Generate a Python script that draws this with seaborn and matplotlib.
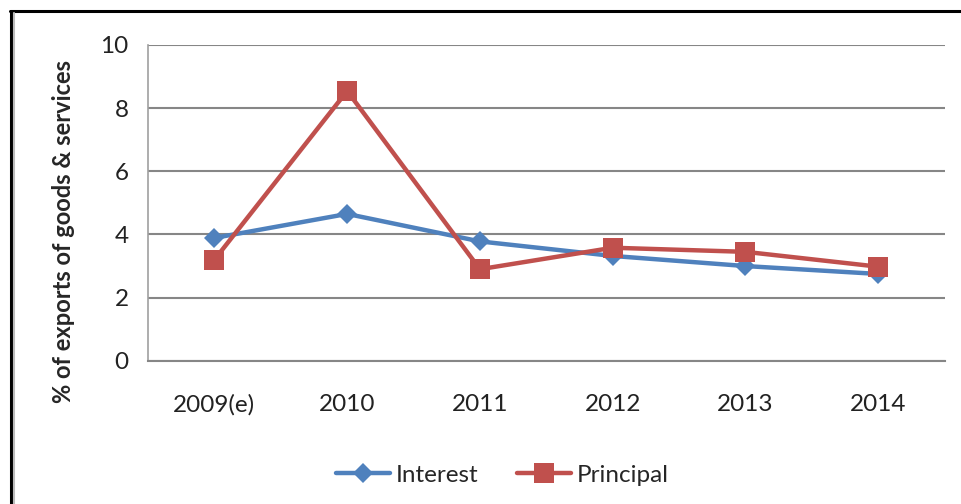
import matplotlib
matplotlib.use('Agg')
import matplotlib.pyplot as plt
import pandas as pd
import seaborn as sns
from matplotlib.lines import Line2D

years = ['2009(e)', '2010', '2011', '2012', '2013', '2014']
interest = [3.89, 4.65, 3.78, 3.32, 3.0, 2.75]
principal = [3.2, 8.54, 2.9, 3.58, 3.45, 2.98]

df = pd.DataFrame({'year': years * 2,
                   'value': interest + principal,
                   'series': ['Interest'] * 6 + ['Principal'] * 6})

sns.set_style('white')
plt.rcParams['font.family'] = ['Lato', 'DejaVu Sans']

fig = plt.figure(figsize=(9.61, 5.04), dpi=100)
ax = fig.add_axes([0.154, 0.284, 0.829, 0.627])

palette = {'Interest': '#4F81BD', 'Principal': '#C0504D'}
markers = {'Interest': 'D', 'Principal': 's'}
sizes = {'Interest': 10, 'Principal': 14}
for name in ['Interest', 'Principal']:
    sub = df[df['series'] == name]
    sns.lineplot(data=sub, x='year', y='value', ax=ax, color=palette[name],
                 marker=markers[name], markersize=sizes[name], linewidth=3.2,
                 markeredgewidth=0, label=name, sort=False)

ax.set_xlim(-0.5, 5.5)
ax.set_ylim(0, 10)
ax.set_yticks([0, 2, 4, 6, 8, 10])
ax.grid(axis='y', color='#868686', linewidth=1.5)
ax.set_axisbelow(True)
for s in ['top', 'right']:
    ax.spines[s].set_visible(False)
ax.spines['left'].set_color('#A0A0A0')
ax.spines['left'].set_linewidth(1.2)
ax.spines['bottom'].set_color('#868686')
ax.spines['bottom'].set_linewidth(1.5)
ax.tick_params(axis='x', length=0, labelsize=17.5, colors='#222222', pad=24)
ax.tick_params(axis='y', length=0, labelsize=17.5, colors='#222222', pad=14)
ax.set_xlabel('')
ax.set_ylabel('% of exports of goods & services', fontsize=17, fontweight='bold')
ax.yaxis.set_label_coords(-0.092, 0.41)

ax.legend(loc='upper center', bbox_to_anchor=(0.445, -0.26), ncol=2,
          frameon=False, fontsize=17.5, handlelength=2.2, columnspacing=1.6,
          handletextpad=0.25)

# outer frame like the Excel chart box
fig.add_artist(Line2D([10 / 961, 1], [1 - 11 / 504, 1 - 11 / 504],
                      transform=fig.transFigure, color='black', linewidth=2.2))
fig.add_artist(Line2D([11 / 961, 11 / 961], [0, 1 - 11 / 504],
                      transform=fig.transFigure, color='black', linewidth=2.2))
fig.add_artist(Line2D([14 / 961, 14 / 961], [0, 1 - 13 / 504],
                      transform=fig.transFigure, color='#BBBBBB', linewidth=1.5))

fig.savefig('out.png', dpi=100)
